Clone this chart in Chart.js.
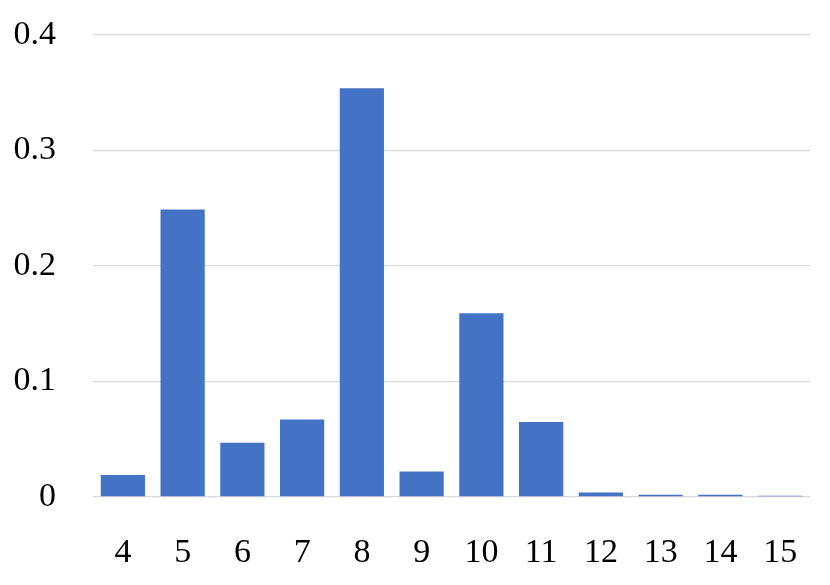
<!DOCTYPE html>
<html lang="en">
<head>
    <meta charset="UTF-8">
    <title>Distribution</title>
    <style>
        body {
            margin: 0;
            padding: 0;
            background: #fff;
        }
        #wrap {
            width: 830px;
            height: 585px;
        }
    </style>
    <script src="https://cdn.jsdelivr.net/npm/chart.js"></script>
</head>
<body>
    <div id="wrap">
        <canvas id="barChart" width="830" height="585"></canvas>
    </div>

    <script>
        // data
        var categories = ['4', '5', '6', '7', '8', '9', '10', '11', '12', '13', '14', '15'];
        var values = [0.019, 0.249, 0.047, 0.067, 0.354, 0.022, 0.159, 0.065, 0.004, 0.002, 0.002, 0.001];
        var yTicks = [0, 0.1, 0.2, 0.3, 0.4];

        var serif = "'Liberation Serif', 'DejaVu Serif', serif";

        var ctx = document.getElementById('barChart').getContext('2d');
        new Chart(ctx, {
            type: 'bar',
            data: {
                labels: categories,
                datasets: [{
                    data: values,
                    backgroundColor: '#4472C4',
                    borderWidth: 0,
                    barPercentage: 0.74,
                    categoryPercentage: 1.0
                }]
            },
            options: {
                responsive: false,
                animation: false,
                layout: {
                    padding: { top: 35, right: 20, left: 0, bottom: 0 }
                },
                plugins: {
                    legend: { display: false },
                    tooltip: { enabled: false }
                },
                scales: {
                    x: {
                        grid: { display: false },
                        border: { display: false },
                        ticks: {
                            color: '#000',
                            font: { family: serif, size: 34 },
                            padding: 28,
                            maxRotation: 0
                        },
                        // fixed height so the plot bottom sits where the reference has it
                        afterFit: function(scale) {
                            scale.height = 88;
                            scale.paddingLeft = 0;
                            scale.paddingRight = 0;
                        }
                    },
                    y: {
                        min: 0,
                        max: 0.4,
                        afterBuildTicks: function(scale) {
                            scale.ticks = yTicks.map(function(v) { return { value: v }; });
                        },
                        grid: {
                            color: '#d9d9d9',
                            lineWidth: 1.3,
                            drawTicks: false
                        },
                        border: { display: false },
                        ticks: {
                            color: '#000',
                            font: { family: serif, size: 34 },
                            padding: 37
                        },
                        afterFit: function(scale) {
                            scale.width = 93;
                            scale.paddingTop = 0;
                            scale.paddingBottom = 0;
                        }
                    }
                }
            }
        });
    </script>
</body>
</html>
